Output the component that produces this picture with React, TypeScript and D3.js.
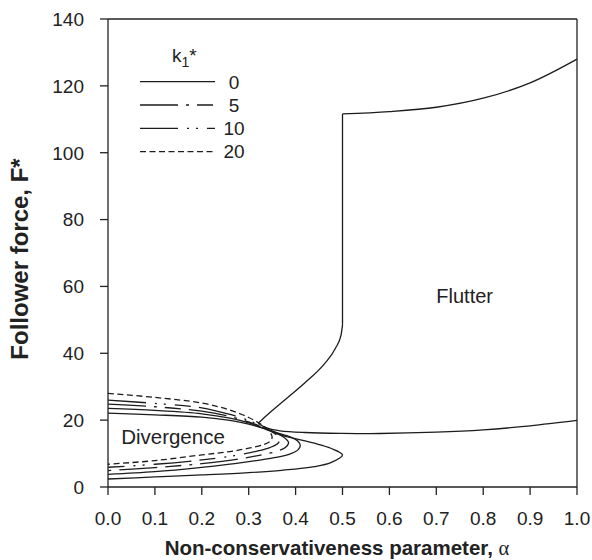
import React from 'react';
import * as d3 from 'd3';

type Pt = [number, number];

// Axis ticks
const alphaTicks: number[] = [0, 0.1, 0.2, 0.3, 0.4, 0.5, 0.6, 0.7, 0.8, 0.9, 1.0];
const forceTicks: number[] = [0, 20, 40, 60, 80, 100, 120, 140];

// Divergence loops: upper branch from alpha = 0, around the nose, back along lower branch
const divK0: Pt[] = [
  [0, 22.1], [0.1, 21.6], [0.2, 20.9], [0.26, 19.9], [0.3, 18.8], [0.33, 17.6], [0.37, 15.5],
  [0.44, 13.1], [0.475, 11.6], [0.5, 9.6], [0.475, 7.3], [0.44, 6.1], [0.37, 5.0], [0.3, 4.3],
  [0.2, 3.6], [0.1, 3.0], [0, 2.4],
];
const divSolid2: Pt[] = [
  [0, 23.5], [0.1, 22.9], [0.2, 21.9], [0.26, 20.6], [0.3, 19.2], [0.33, 17.7], [0.36, 16.3],
  [0.39, 14.9], [0.405, 13.7], [0.41, 12.4], [0.405, 11.1], [0.39, 10.0], [0.367, 9.1],
  [0.33, 8.2], [0.27, 7.0], [0.2, 5.9], [0.1, 4.6], [0, 3.8],
];
const divK5: Pt[] = [
  [0, 24.8], [0.1, 24.0], [0.2, 22.7], [0.26, 21.1], [0.3, 19.5], [0.33, 17.8], [0.355, 16.3],
  [0.375, 14.9], [0.385, 13.3], [0.378, 11.8], [0.36, 10.7], [0.33, 9.7], [0.27, 8.2],
  [0.2, 7.0], [0.1, 5.8], [0, 4.9],
];
const divK10: Pt[] = [
  [0, 26.0], [0.1, 25.0], [0.2, 23.7], [0.26, 21.7], [0.3, 19.9], [0.33, 18.0], [0.35, 16.5],
  [0.362, 15.2], [0.366, 14.0], [0.36, 12.8], [0.345, 11.8], [0.32, 10.8], [0.27, 9.4],
  [0.2, 8.1], [0.1, 6.8], [0, 5.9],
];
const divK20: Pt[] = [
  [0, 28.0], [0.1, 26.8], [0.2, 25.1], [0.26, 23.0], [0.3, 20.8], [0.33, 18.4], [0.345, 16.5],
  [0.35, 14.8], [0.345, 13.6], [0.33, 12.6], [0.3, 11.6], [0.26, 10.6], [0.2, 9.6],
  [0.1, 7.9], [0, 6.8],
];

// Flutter boundaries
const flutterLower: Pt[] = [
  [0.32, 19.0], [0.34, 17.6], [0.367, 16.8], [0.42, 16.3], [0.5, 16.05], [0.58, 16.0],
  [0.7, 16.4], [0.8, 17.1], [0.9, 18.3], [1.0, 19.9],
];
const flutterRising: Pt[] = [
  [0.32, 19.0], [0.34, 21.6], [0.38, 26.4], [0.42, 31.2], [0.46, 36.6], [0.485, 41.5],
  [0.497, 45.5], [0.5, 48.5],
];
const flutterJump: Pt[] = [[0.5, 48.5], [0.5, 111.6]];
const flutterUpper: Pt[] = [
  [0.5, 111.6], [0.6, 112.3], [0.7, 113.6], [0.8, 116.3], [0.9, 120.9], [1.0, 128.0],
];

const legendKeys: string[] = ['0', '5', '10', '20'];
const legendDash: string[] = ['none', '38 8 3 8 16 8', '38 9 2 7 2 9 16 8', '6 3.5'];

const FONT = '"Liberation Sans", Arial, Helvetica, sans-serif';
const INK = '#1c1c1c';

export default function App() {
  const W = 592, H = 560;
  const x = d3.scaleLinear().domain([0, 1]).range([108, 577]);
  const y = d3.scaleLinear().domain([0, 140]).range([487, 19]);
  const smooth = d3.line<Pt>().x(d => x(d[0])).y(d => y(d[1])).curve(d3.curveCatmullRom.alpha(0.5));
  const mono = d3.line<Pt>().x(d => x(d[0])).y(d => y(d[1])).curve(d3.curveMonotoneX);
  const straight = d3.line<Pt>().x(d => x(d[0])).y(d => y(d[1]));

  const curves: { pts: Pt[]; dash: string }[] = [
    { pts: divK0, dash: legendDash[0] },
    { pts: divSolid2, dash: legendDash[0] },
    { pts: divK5, dash: legendDash[1] },
    { pts: divK10, dash: legendDash[2] },
    { pts: divK20, dash: legendDash[3] },
  ];

  const x0 = x(0), x1 = x(1), y0 = y(0), yTop = y(140);
  const legX0 = 140, legX1 = 215, legY0 = 81.7, legStep = 23.3;

  return (
    <svg width={W} height={H} style={{ position: 'absolute', left: 0, top: 0, background: '#fff' }}
      fontFamily={FONT}>
      <rect x={0} y={0} width={W} height={H} fill="#fff" />
      {/* frame */}
      <g stroke="#222" strokeWidth={1.3} fill="none">
        <line x1={x0} y1={yTop} x2={x1} y2={yTop} />
        <line x1={x1} y1={yTop} x2={x1} y2={y0} />
        <line x1={x0} y1={yTop} x2={x0} y2={y0} />
        <line x1={x0} y1={y0} x2={x1} y2={y0} />
        {forceTicks.map(t => (
          <line key={'yt' + t} x1={x0 - 8} x2={x0} y1={y(t)} y2={y(t)} />
        ))}
        {alphaTicks.map(t => (
          <line key={'xt' + t} x1={x(t)} x2={x(t)} y1={y0} y2={y0 + 8} />
        ))}
      </g>
      {/* tick labels */}
      <g fill="#222" fontSize={19}>
        {forceTicks.map(t => (
          <text key={'yl' + t} x={84} y={y(t)} dy="0.36em" textAnchor="end">{t}</text>
        ))}
        {alphaTicks.map(t => (
          <text key={'xl' + t} x={x(t)} y={525} textAnchor="middle">{t.toFixed(1)}</text>
        ))}
      </g>
      {/* axis titles */}
      <text x={337} y={555} textAnchor="middle" fontSize={20.5} fontWeight="bold" fill="#222">
        Non-conservativeness parameter,{' '}
        <tspan fontFamily='"Liberation Serif", "DejaVu Serif", serif' fontWeight="normal">α</tspan>
      </text>
      <text transform={`translate(28,259) rotate(-90)`} textAnchor="middle" fontSize={24}
        fontWeight="bold" fill="#222">Follower force, F*</text>

      {/* curves */}
      <g fill="none" stroke={INK} strokeWidth={1.3}>
        {curves.map((c, i) => (
          <path key={'div' + i} d={smooth(c.pts) || ''} strokeDasharray={c.dash === 'none' ? undefined : c.dash} />
        ))}
        <path d={smooth(flutterLower) || ''} />
        <path d={mono(flutterRising) || ''} />
        <path d={straight(flutterJump) || ''} />
        <path d={smooth(flutterUpper) || ''} />
      </g>

      {/* region labels */}
      <text x={x(0.028)} y={y(12.9)} fontSize={20.5} fill="#222">Divergence</text>
      <text x={x(0.7)} y={y(55)} fontSize={20} fill="#222">Flutter</text>

      {/* legend */}
      <text x={172} y={61.5} fontSize={19} fill="#222">
        k<tspan fontSize={14} dy={5}>1</tspan><tspan dy={-5}>*</tspan>
      </text>
      {legendKeys.map((k, i) => (
        <g key={'leg' + k}>
          <line x1={legX0} x2={legX1} y1={legY0 + i * legStep} y2={legY0 + i * legStep}
            stroke={INK} strokeWidth={1.3}
            strokeDasharray={legendDash[i] === 'none' ? undefined : legendDash[i]} />
          <text x={234} y={legY0 + i * legStep} dy="0.36em" textAnchor="middle" fontSize={19} fill="#222">{k}</text>
        </g>
      ))}
    </svg>
  );
}
